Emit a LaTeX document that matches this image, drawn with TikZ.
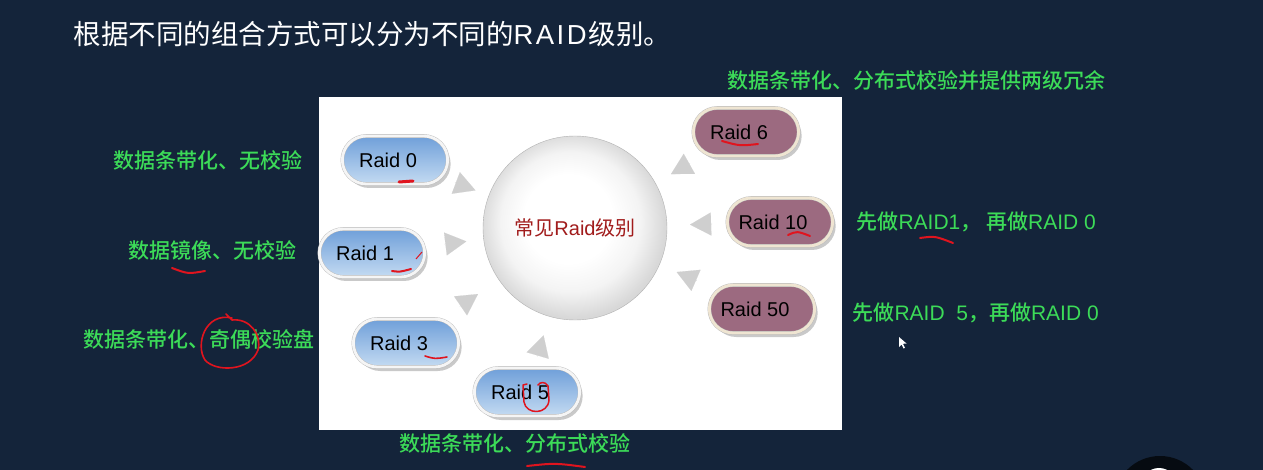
\documentclass[tikz,border=0pt]{standalone}
\usepackage{fontspec}
\setmainfont{Noto Sans CJK SC}
\newfontfamily\medfont{Noto Sans CJK SC Medium}
\newfontfamily\arialfont{Liberation Sans}
\usetikzlibrary{calc,shapes.misc,shadows,arrows.meta}

\definecolor{slide}{HTML}{14243A}
\definecolor{notegreen}{HTML}{3CDB58}
\definecolor{raidred}{HTML}{A11C1C}
\definecolor{penred}{HTML}{E0141E}
\definecolor{bluetop}{HTML}{6F9FD9}
\definecolor{bluebot}{HTML}{C4DBF2}
\definecolor{mauve}{HTML}{9C6A80}
\definecolor{cream}{HTML}{EFE5D2}

\pgfdeclareradialshading{pearl}{\pgfpoint{-3bp}{4bp}}{%
  color(0bp)=(white); color(12bp)=(white); color(19bp)=(gray!9);
  color(25bp)=(gray!30); color(32bp)=(gray!42)}

\begin{document}
\begin{tikzpicture}[x=1pt,y=-1pt,
    pill/.style={rounded rectangle, minimum width=112pt, minimum height=48pt,
      draw=gray!55, double distance=2.8pt,
      drop shadow={shadow xshift=3pt, shadow yshift=-4pt, fill=gray!70, opacity=0.6},
      font=\arialfont\fontsize{20}{24}\selectfont,
      execute at end node=\hspace{14pt}},
    bluepill/.style={pill, double=gray!8, top color=bluetop, bottom color=bluebot},
    mauvepill/.style={pill, double=cream, fill=mauve},
    note/.style={text=notegreen, font=\medfont\fontsize{21}{25}\selectfont},
    tri/.style={draw=gray!38, fill=gray!38, line width=0.1pt,
      -{Triangle[length=21pt,width=23pt]}},
    redpen/.style={penred, line width=2pt, line cap=round, line join=round}]
  \useasboundingbox (0,0) rectangle (1263,470);
  \fill[slide] (0,0) rectangle (1263,470);

  % title
  \node[anchor=west, text=white, font=\fontsize{27.5}{32}\selectfont] (title) at (70,34)
    {根据不同的组合方式可以分为不同的{\arialfont R\kern2.5pt A\kern2.5pt I\kern2.5pt D\kern2pt}级别。};

  % slide picture
  \fill[white] (319,97) rectangle (842,430);
  \node[circle, minimum size=184pt, shading=pearl, draw=gray!60,
    text=raidred, font=\fontsize{20}{24}\selectfont] (core) at (575,228)
    {常见{\arialfont Raid}级别};

  \node[bluepill] (r0) at (395,160) {Raid 0};
  \node[bluepill] (r1) at (372,253) {Raid 1};
  \node[bluepill] (r3) at (406,343) {Raid 3};
  \node[bluepill] (r5) at (527,392) {Raid 5};
  \node[mauvepill] (r6) at (746,132) {Raid 6};
  \node[mauvepill] (r10) at (780,222) {Raid 10};
  \node[mauvepill] (r50) at (762,309) {Raid 50};

  \draw[tri] ($(r0)!64pt!(core)$) -- ($(r0)!86pt!(core)$);
  \draw[tri] ($(r1)!73pt!(core)$) -- ($(r1)!95pt!(core)$);
  \draw[tri] ($(r3)!65pt!(core)$) -- ($(r3)!87pt!(core)$);
  \draw[tri] ($(r5)!37pt!(core)$) -- ($(r5)!59pt!(core)$);
  \draw[tri] ($(r6)!64pt!(core)$) -- ($(r6)!86pt!(core)$);
  \draw[tri] ($(r10)!68pt!(core)$) -- ($(r10)!90pt!(core)$);
  \draw[tri] ($(r50)!71pt!(core)$) -- ($(r50)!93pt!(core)$);

  % green notes
  \node[note] (n0) at (208,160) {数据条带化、无校验};
  \node[note] (n1) at (212,250) {数据镜像、无校验};
  \node[note] (n3) at (199,339) {数据条带化、奇偶校验盘};
  \node[note] (n5) at (515,443) {数据条带化、分布式校验};
  \node[note] (n6) at (916,81) {数据条带化、分布式校验并提供两级冗余};
  \node[note, anchor=west] (n10) at (853,222)
    {先做{\arialfont RAID1}， 再做{\arialfont RAID 0}};
  \node[note, anchor=west] (n50) at (849,313)
    {先做{\arialfont RAID\ \ 5}，再做{\arialfont RAID 0}};

  % red pen marks
  \draw[redpen, line width=3pt] (399,182) -- (413,181);
  \draw[redpen] (392,271) .. controls (400,272) .. (411,269);
  \draw[penred, line width=1pt] (416,259) -- (422,252);
  \draw[redpen, line width=1.6pt] (425,356) .. controls (435,359) .. (447,357);
  \draw[redpen, line width=1.5pt] (527,384) -- (523,385) -- (524,402)
    .. controls (526,415) and (548,415) .. (549,400) -- (548,386)
    .. controls (545,381) and (540,382) .. (538,385);
  \draw[redpen] (722,141) .. controls (740,146) .. (758,144);
  \draw[redpen] (788,235) .. controls (797,231) .. (810,236);
  \draw[redpen] (172,268) .. controls (188,274) .. (205,271);
  \draw[redpen, line width=1.6pt] (232,318) .. controls (205,312) and (195,345) .. (205,360)
    .. controls (215,372) and (250,372) .. (258,350)
    .. controls (262,335) and (250,318) .. (232,320) -- (226,314);
  \draw[redpen] (920,238) .. controls (935,236) .. (953,243);
  \draw[redpen] (527,466) .. controls (555,463) .. (585,467);

  % cursor
  \fill[white] (899,337) -- (899,347) -- (901.5,344.5) -- (903.5,348.5) -- (905,347.8)
    -- (903,343.8) -- (906.5,343.5) -- cycle;

  % camera corner
  \begin{scope}
    \clip (0,0) rectangle (1263,470);
    \fill[black!70!slide] (1160,502) circle (46pt);
    \fill[white] (1159,486) circle (18pt);
    \fill[blue!70!cyan] (1159,486) circle (14pt);
  \end{scope}
\end{tikzpicture}
\end{document}
